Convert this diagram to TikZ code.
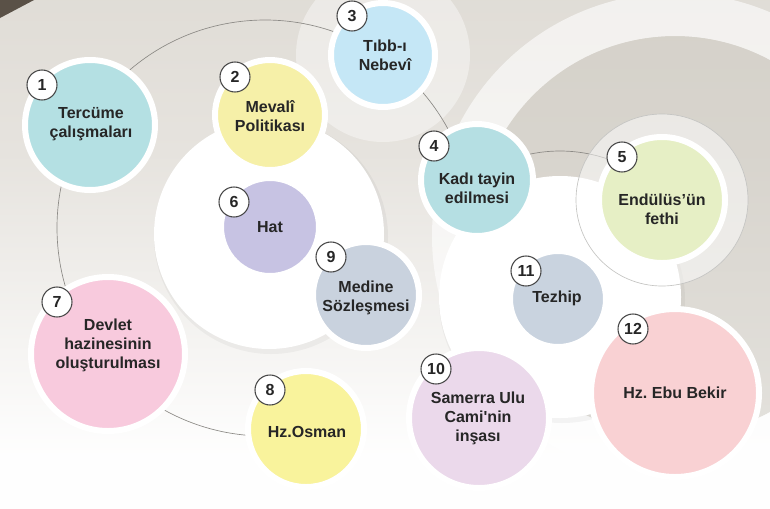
\documentclass[tikz,border=0pt]{standalone}
\usepackage{fontspec}
\setmainfont{Liberation Sans}
\definecolor{bgtop}{HTML}{D6D2CA}
\definecolor{bgmid}{HTML}{E6E3DE}
\definecolor{bgdark}{HTML}{CBC7BE}
\definecolor{cornerbrown}{HTML}{5A5147}
\definecolor{inkdark}{HTML}{262626}
\definecolor{thinline}{HTML}{8C8A86}
\definecolor{ctercume}{HTML}{B4E0E3}
\definecolor{cmevali}{HTML}{F6F0A8}
\definecolor{ctibb}{HTML}{C5E7F6}
\definecolor{ckadi}{HTML}{B5DFE3}
\definecolor{cendulus}{HTML}{E6EFC5}
\definecolor{chat}{HTML}{C7C3E3}
\definecolor{cdevlet}{HTML}{F8CADD}
\definecolor{cosman}{HTML}{F9F39C}
\definecolor{cmedine}{HTML}{C9D2DE}
\definecolor{csamerra}{HTML}{EBD9EB}
\definecolor{ctezhip}{HTML}{C9D3DF}
\definecolor{cebubekir}{HTML}{F9D1D3}
\pgfdeclareverticalshading{bgfade}{100bp}{color(0bp)=(white); color(30bp)=(white!97!bgmid); color(60bp)=(bgmid); color(100bp)=(bgtop)}
\frenchspacing
\begin{document}
\begin{tikzpicture}[x=0.75pt,y=-0.75pt,
  topic/.style={circle,draw=white,line width=4.5pt,inner sep=0pt},
  badge/.style={circle,fill=white,draw=inkdark!85,line width=0.8pt,inner sep=0pt,minimum size=22.5pt,
    font=\bfseries\fontsize{12}{12}\selectfont,text=inkdark},
  topictext/.style={align=center,inner sep=0pt,font=\bfseries\fontsize{12}{14.3}\selectfont,text=inkdark}]
\useasboundingbox (0,0) rectangle (770,508);
% background
\shade[shading=bgfade] (0,0) rectangle (770,508);
\fill[cornerbrown] (0,0)--(34,0)--(0,18)--cycle;
\fill[bgdark,opacity=.5] (675,236) circle (200);
\fill[white,opacity=.6,even odd rule] (675,236) circle (243) (675,236) circle (200);
\fill[white,opacity=.4] (383,55) circle (87);
\draw[thinline,line width=.5pt] (265,228) ++(85:208) arc[start angle=85,end angle=345,radius=208];
\fill[black,opacity=.04] (271,237) circle (117);
\fill[white] (269,234) circle (115);
\fill[black,opacity=.04] (562,300) circle (123);
\fill[white] (560,297) circle (121);
\draw[thinline,line width=.5pt] (560,297) ++(240:146) arc[start angle=240,end angle=300,radius=146];
\filldraw[fill=white,fill opacity=.5,draw=thinline!50,line width=.5pt] (662,200) circle (86);

% circles
\node[topic,fill=ctercume,minimum size=97.5pt] (c1) at (90,125) {};
\node[topic,fill=cmevali,minimum size=82.5pt] (c2) at (270,115) {};
\node[topic,fill=ctibb,minimum size=78pt] (c3) at (383,55) {};
\node[topic,fill=ckadi,minimum size=84pt] (c4) at (477,180) {};
\node[topic,fill=cendulus,minimum size=94.5pt] (c5) at (662,200) {};
\node[topic,fill=chat,minimum size=73.5pt] (c6) at (270,227) {};
\node[topic,fill=cdevlet,minimum size=115.5pt] (c7) at (108,354) {};
\node[topic,fill=cosman,minimum size=87pt] (c8) at (306,429) {};
\node[topic,fill=cmedine,minimum size=79.5pt] (c9) at (366,295) {};
\node[topic,fill=csamerra,minimum size=105pt] (c10) at (479,418) {};
\node[topic,fill=ctezhip,minimum size=72pt] (c11) at (558,299) {};
\node[topic,fill=cebubekir,minimum size=126pt] (c12) at (675,393) {};

% texts
\node[topictext] (t1) at (91,124) {Tercüme\\çalışmaları};
\node[topictext] (t2) at (270,116) {Mevalî\\Politikası};
\node[topictext] (t3) at (385,55) {Tıbb-ı\\Nebevî};
\node[topictext] (t4) at (477,188) {Kadı tayin\\edilmesi};
\node[topictext] (t5) at (662,209) {Endülüs’ün\\fethi};
\node[topictext] (t6) at (270,227) {Hat};
\node[topictext] (t7) at (108,345) {Devlet\\hazinesinin\\oluşturulması};
\node[topictext] (t8) at (307,432) {Hz.Osman};
\node[topictext] (t9) at (366,298) {Medine\\Sözleşmesi};
\node[topictext] (t10) at (478,418) {Samerra Ulu\\Cami\textquotesingle nin\\inşası};
\node[topictext] (t11) at (557,298) {Tezhip};
\node[topictext] (t12) at (675,393) {Hz. Ebu Bekir};

% numbers
\node[badge] (b1) at (42,85) {1};
\node[badge] (b2) at (235,77) {2};
\node[badge] (b3) at (352,16) {3};
\node[badge] (b4) at (434,146) {4};
\node[badge] (b5) at (622,157) {5};
\node[badge] (b6) at (234,202) {6};
\node[badge] (b7) at (57,302) {7};
\node[badge] (b8) at (270,390) {8};
\node[badge] (b9) at (331,257) {9};
\node[badge] (b10) at (436,369) {10};
\node[badge] (b11) at (526,271) {11};
\node[badge] (b12) at (633,329) {12};
\end{tikzpicture}
\end{document}
